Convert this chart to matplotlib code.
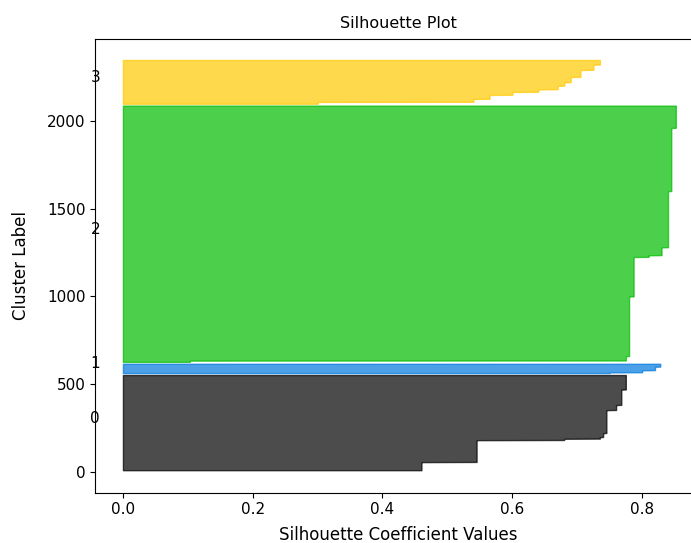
import matplotlib
matplotlib.use('Agg')
import matplotlib.pyplot as plt
import matplotlib.cm as cm
import numpy as np

# sorted silhouette values of each cluster, stored as runs (count, value)
c0_counts = [47, 125, 8, 9, 23, 131, 29, 88, 83]
c0_values = [0.46, 0.545, 0.68, 0.735, 0.74, 0.745, 0.76, 0.768, 0.775]

c1_counts = [5, 12, 20, 17]
c1_values = [0.75, 0.80, 0.82, 0.828]

c2_counts = [8, 25, 340, 225, 10, 45, 320, 360, 127]
c2_values = [0.103, 0.775, 0.78, 0.787, 0.81, 0.83, 0.84, 0.845, 0.852]

c3_counts = [11, 17, 23, 17, 15, 20, 20, 30, 40, 30, 27]
c3_values = [0.30, 0.54, 0.565, 0.60, 0.64, 0.67, 0.68, 0.69, 0.705, 0.725, 0.735]

clusters = [(c0_counts, c0_values), (c1_counts, c1_values),
            (c2_counts, c2_values), (c3_counts, c3_values)]
n_clusters = len(clusters)

fig = plt.figure(figsize=(6.91, 5.43), dpi=100)
ax = fig.add_axes([0.138, 0.093, 0.878, 0.835])

y_lower = 10
for i, (counts, values) in enumerate(clusters):
    sil = np.sort(np.repeat(values, counts))
    size = sil.shape[0]
    y_upper = y_lower + size
    color = cm.nipy_spectral(float(i) / n_clusters)
    ax.fill_betweenx(np.arange(y_lower, y_upper), 0, sil,
                     facecolor=color, edgecolor=color, alpha=0.7)
    ax.text(-0.05, y_lower + 0.5 * size, str(i), fontsize=11)
    y_lower = y_upper + 10

ax.set_xlim(-0.0425, 0.8925)
ax.set_ylim(-117, 2465)
ax.set_title('Silhouette Plot', fontsize=11.5, pad=8)
ax.set_xlabel('Silhouette Coefficient Values', fontsize=12, labelpad=6)
ax.set_ylabel('Cluster Label', fontsize=12, labelpad=12)
ax.tick_params(labelsize=11)

fig.savefig('out.png', dpi=100)
